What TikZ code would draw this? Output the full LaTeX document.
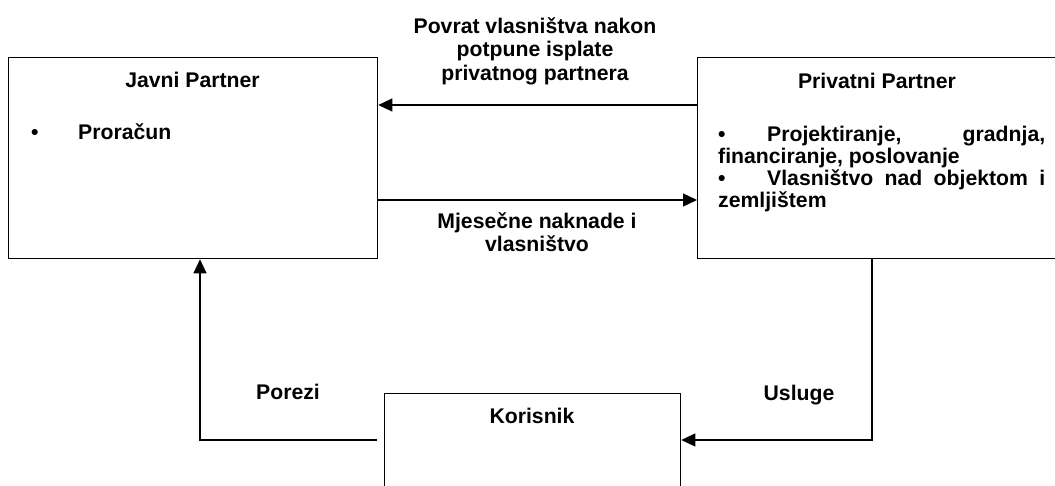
\documentclass[tikz,border=0pt]{standalone}
\usepackage{fontspec}
\setmainfont{Liberation Sans}
\usetikzlibrary{arrows.meta}
\hbadness=10000
\begin{document}
\begin{tikzpicture}[x=1pt,y=-1pt,
  font=\fontsize{21.2}{22}\selectfont\bfseries,
  box/.style={draw,line width=1.3pt,inner sep=0pt,anchor=north west},
  txt/.style={inner sep=0pt,anchor=base},
  lbl/.style={inner sep=0pt,anchor=base,align=center,
    font=\fontsize{21.2}{23.5}\selectfont\bfseries},
  arr/.style={line width=1.3pt,-{Triangle[length=14pt,width=13pt]}},
  bullet/.style={inner sep=0pt,anchor=base west,text width=#1,align=justify}
]
\useasboundingbox (0,0) rectangle (1055,485);

% the three parties
\node[box,minimum width=369pt,minimum height=201pt] (javni) at (8,57) {};
\node[box,minimum width=361pt,minimum height=201pt] (privatni) at (697,57) {};
\node[box,minimum width=296pt,minimum height=110pt] (korisnik) at (384,393) {};

% box contents
\node[txt] (javniT) at (192.5,87) {Javni Partner};
\node[bullet=300pt] (javniL) at (31,139) {\makebox[47pt][l]{\textbullet}Prora\v{c}un};

\node[txt] (privatniT) at (877,88) {Privatni Partner};
\node[bullet=327pt] (privatniL) at (718,141) {%
  \parindent=0pt
  \makebox[49pt][l]{\textbullet}Projektiranje, gradnja,\linebreak
  financiranje, poslovanje\par
  \makebox[49pt][l]{\textbullet}Vlasni\v{s}tvo nad objektom i\linebreak
  zemlji\v{s}tem};

\node[txt] (korisnikT) at (532,423) {Korisnik};

% flows between the parties
\draw[arr] ([yshift=-48pt]privatni.north west) -- ([yshift=-48pt]javni.north east);
\draw[arr] ([yshift=-143pt]javni.north east) -- ([yshift=-143pt]privatni.north west);
\draw[arr] ([xshift=175pt]privatni.south west) |- ([yshift=-47pt]korisnik.north east);
\draw[arr] ([xshift=-7pt,yshift=-47pt]korisnik.north west) -| ([xshift=192pt]javni.south west);

% flow labels (base anchor sits on the last line)
\node[lbl] (povrat) at (535,80) {Povrat vlasni\v{s}tva nakon\\potpune isplate\\privatnog partnera};
\node[lbl] (mjesecne) at (537,251.5) {Mjese\v{c}ne naknade i\\vlasni\v{s}tvo};
\node[lbl] (porezi) at (288,399) {Porezi};
\node[lbl] (usluge) at (799,400) {Usluge};
\end{tikzpicture}
\end{document}
